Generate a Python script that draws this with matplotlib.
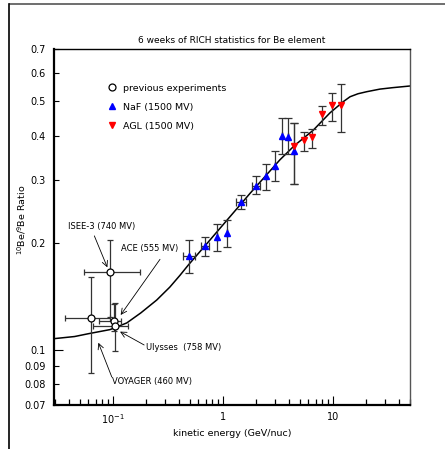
import matplotlib
matplotlib.use("Agg")
import matplotlib.pyplot as plt
from matplotlib.lines import Line2D
from matplotlib.ticker import NullFormatter, NullLocator, LogLocator
import numpy as np

# NaF (1500 MV) points
naf_x = [0.494, 0.690, 0.882, 1.087, 1.466, 2.01, 2.49, 2.99, 3.48, 3.95, 4.48]
naf_y = [0.183, 0.196, 0.207, 0.213, 0.260, 0.289, 0.307, 0.328, 0.400, 0.395, 0.363]
naf_lo = [0.164, 0.183, 0.190, 0.194, 0.248, 0.274, 0.281, 0.299, 0.355, 0.355, 0.293]
naf_hi = [0.203, 0.207, 0.226, 0.231, 0.272, 0.307, 0.333, 0.363, 0.447, 0.447, 0.435]
naf_xerr = [0.06, 0.055, 0.0, 0.0, 0.15, 0.18, 0.0, 0.0, 0.0, 0.0, 0.0]

# AGL (1500 MV) points
agl_x = [4.48, 5.45, 6.48, 7.94, 9.91, 11.9]
agl_y = [0.374, 0.389, 0.396, 0.459, 0.486, 0.487]
agl_lo = [0.293, 0.363, 0.368, 0.429, 0.438, 0.410]
agl_hi = [0.435, 0.410, 0.417, 0.485, 0.527, 0.557]

# previous experiments: ISEE-3, Voyager, ACE, Ulysses
prev_x = [0.0945, 0.0636, 0.102, 0.105]
prev_y = [0.165, 0.123, 0.1205, 0.117]
prev_lo = [0.124, 0.0859, 0.113, 0.099]
prev_hi = [0.203, 0.160, 0.1345, 0.135]
prev_xlo = [0.0552, 0.0368, 0.075, 0.0658]
prev_xhi = [0.177, 0.095, 0.120, 0.137]

# model curve
curve_x = [0.0292, 0.045, 0.06, 0.0945, 0.134, 0.18, 0.251, 0.33, 0.409, 0.486,
           0.7, 1.0, 1.77, 2.5, 3.32, 4.5, 6.66, 9.45, 12.5, 14.4, 17.0, 20.4,
           26.9, 35.0, 50.5]
curve_y = [0.1075, 0.109, 0.111, 0.114, 0.119, 0.127, 0.138, 0.150, 0.162, 0.173,
           0.197, 0.224, 0.275, 0.310, 0.342, 0.375, 0.414, 0.463, 0.498, 0.514,
           0.524, 0.531, 0.540, 0.545, 0.551]

ytick_vals = [0.07, 0.08, 0.09, 0.1, 0.2, 0.3, 0.4, 0.5, 0.6, 0.7]
ytick_labels = ["0.07", "0.08", "0.09", "0.1", "0.2", "0.3", "0.4", "0.5", "0.6", "0.7"]

fig = plt.figure(figsize=(4.45, 4.49), dpi=100)
ax = fig.add_axes([0.1213, 0.098, 0.8, 0.7929])

# outer frame (only top and left visible)
fig.add_artist(Line2D([0.0225, 1.0], [0.9904, 0.9904], color="#555555", lw=1.2))
fig.add_artist(Line2D([0.0213, 0.0213], [0.0, 0.9904], color="black", lw=1.2))

ax.plot(curve_x, curve_y, color="black", lw=1.1, zorder=2)

ecol = "#333333"
nx = np.array(naf_x); ny = np.array(naf_y)
ax.errorbar(nx, ny, yerr=[ny - np.array(naf_lo), np.array(naf_hi) - ny],
            xerr=naf_xerr, fmt="none", ecolor=ecol, elinewidth=0.9, capsize=3, capthick=0.9, zorder=3)
ax.plot(nx, ny, "^", color="blue", ms=4.8, ls="none", zorder=4)

axx = np.array(agl_x); ayy = np.array(agl_y)
ax.errorbar(axx, ayy, yerr=[ayy - np.array(agl_lo), np.array(agl_hi) - ayy],
            fmt="none", ecolor=ecol, elinewidth=0.9, capsize=3, capthick=0.9, zorder=3)
ax.plot(axx, ayy, "v", color="red", ms=4.8, ls="none", zorder=4)

px = np.array(prev_x); py = np.array(prev_y)
ax.errorbar(px, py, yerr=[py - np.array(prev_lo), np.array(prev_hi) - py],
            xerr=[px - np.array(prev_xlo), np.array(prev_xhi) - px],
            fmt="none", ecolor=ecol, elinewidth=0.9, capsize=2.5, capthick=0.9, zorder=3)
ax.plot(px, py, "o", mfc="white", mec="black", mew=0.9, ms=5, ls="none", zorder=4)

ax.set_xscale("log")
ax.set_yscale("log")
ax.set_xlim(0.0292, 50.5)
ax.set_ylim(0.07, 0.7)

ax.set_xticks([0.1, 1, 10])
ax.set_xticklabels([r"$10^{-1}$", "1", "10"])
ax.xaxis.set_minor_locator(LogLocator(base=10, subs=[2, 3, 4, 5, 6, 7, 8, 9], numticks=20))
ax.xaxis.set_minor_formatter(NullFormatter())
ax.set_yticks(ytick_vals)
ax.set_yticklabels(ytick_labels)
ax.yaxis.set_minor_locator(NullLocator())
ax.tick_params(axis="both", which="major", direction="in", width=0.8, labelsize=7)
ax.tick_params(axis="x", which="major", length=6.5, pad=5)
ax.tick_params(axis="x", which="minor", direction="in", length=4, width=0.9)
ax.tick_params(axis="y", which="major", length=3.5, pad=6)
ax.tick_params(top=False, right=False, which="both")
# 0.1 gets the long tick
ax.yaxis.get_major_ticks()[3].tick1line.set_markersize(6.5)

ax.spines["left"].set_linewidth(1.6)
ax.spines["bottom"].set_linewidth(1.6)
ax.spines["top"].set_linewidth(1.0)
ax.spines["right"].set_linewidth(1.0)
ax.spines["right"].set_color("#555555")

ax.set_title("6 weeks of RICH statistics for Be element", fontsize=6.5, pad=4)
ax.set_xlabel("kinetic energy (GeV/nuc)", fontsize=6.8, labelpad=2)
ax.set_ylabel(r"$^{10}$Be/$^{9}$Be Ratio", fontsize=6.8)
ax.yaxis.set_label_coords(-0.072, 0.52)

# annotations
fs = 6
arr = dict(arrowstyle="->", lw=0.6, color="black", shrinkA=0, shrinkB=0)
ax.text(0.0393, 0.2227, "ISEE-3 (740 MV)", fontsize=fs, va="center")
ax.annotate("", xy=(0.0893, 0.1705), xytext=(0.068, 0.209), arrowprops=arr)
ax.text(0.118, 0.192, "ACE (555 MV)", fontsize=fs, va="center")
ax.annotate("", xy=(0.118, 0.1253), xytext=(0.269, 0.1796), arrowprops=arr)
ax.text(0.1995, 0.1015, "Ulysses  (758 MV)", fontsize=fs, va="center")
ax.annotate("", xy=(0.1165, 0.1125), xytext=(0.193, 0.1032), arrowprops=arr)
ax.text(0.098, 0.0814, "VOYAGER (460 MV)", fontsize=fs, va="center")
ax.annotate("", xy=(0.074, 0.1047), xytext=(0.098, 0.0839), arrowprops=arr)

handles = [
    Line2D([], [], marker="o", mfc="white", mec="black", mew=0.9, ms=5, ls="none"),
    Line2D([], [], marker="^", color="blue", ms=4.8, ls="none"),
    Line2D([], [], marker="v", color="red", ms=4.8, ls="none"),
]
ax.legend(handles, ["previous experiments", "NaF (1500 MV)", "AGL (1500 MV)"],
          loc="upper left", bbox_to_anchor=(0.14, 0.913), frameon=False,
          fontsize=6.8, handlelength=1.0, handletextpad=0.6, labelspacing=1.05,
          borderaxespad=0)

fig.savefig("out.png", dpi=100)
